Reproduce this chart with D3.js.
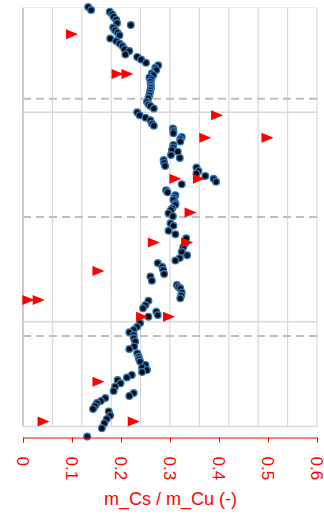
<!DOCTYPE html>
<meta charset="utf-8" />
<style>
    body { margin: 0; background: white; }
    text { font-family: "Liberation Sans", Arial, sans-serif; }
</style>
<script src="https://d3js.org/d3.v7.min.js"></script>
<div id="my_dataviz"></div>
<script>

    // measured series (ratio m_Cs / m_Cu vs relative depth 0..100, top = 0)
    const dotRatio = [0.133, 0.139, 0.177, 0.182, 0.185, 0.190, 0.192, 0.220, 0.184, 0.188,
        0.193, 0.197, 0.178, 0.190, 0.197, 0.203, 0.207, 0.217, 0.209, 0.233,
        0.241, 0.251, 0.276, 0.270, 0.272, 0.263, 0.266, 0.258, 0.262, 0.260,
        0.261, 0.261, 0.261, 0.260, 0.259, 0.258, 0.256, 0.253, 0.256, 0.260,
        0.267, 0.233, 0.238, 0.250, 0.260, 0.263, 0.267, 0.306, 0.307, 0.307,
        0.324, 0.321, 0.321, 0.307, 0.306, 0.304, 0.316, 0.302, 0.320, 0.287,
        0.288, 0.290, 0.354, 0.358, 0.354, 0.372, 0.389, 0.394, 0.324, 0.292,
        0.295, 0.311, 0.309, 0.307, 0.311, 0.311, 0.305, 0.302, 0.297, 0.306,
        0.301, 0.307, 0.297, 0.311, 0.333, 0.331, 0.327, 0.324, 0.335, 0.320,
        0.311, 0.275, 0.284, 0.286, 0.288, 0.260, 0.263, 0.314, 0.317, 0.321,
        0.324, 0.323, 0.321, 0.256, 0.250, 0.245, 0.272, 0.275, 0.256, 0.239,
        0.233, 0.226, 0.217, 0.226, 0.226, 0.229, 0.227, 0.217, 0.233, 0.236,
        0.237, 0.239, 0.250, 0.243, 0.253, 0.243, 0.222, 0.212, 0.193, 0.199,
        0.188, 0.185, 0.226, 0.217, 0.168, 0.159, 0.151, 0.147, 0.143, 0.175,
        0.178, 0.171, 0.166, 0.161, 0.131];
    const dotDepth = [-0.1, 0.6, 1.0, 1.6, 2.2, 2.9, 3.7, 4.2, 4.8, 5.4,
        6.0, 6.6, 7.4, 8.0, 8.6, 9.2, 9.9, 10.4, 11.2, 11.8,
        12.4, 13.2, 13.8, 14.4, 14.9, 15.7, 16.1, 16.7, 17.1, 17.7,
        18.3, 18.8, 19.2, 19.7, 20.3, 20.9, 21.6, 22.5, 23.1, 23.5,
        24.1, 25.0, 25.7, 26.3, 26.9, 27.7, 28.2, 28.9, 29.5, 30.0,
        30.9, 31.4, 32.0, 32.8, 33.4, 34.0, 34.4, 35.2, 35.9, 36.4,
        37.1, 37.8, 38.2, 39.0, 39.6, 40.2, 40.9, 41.6, 42.2, 43.6,
        44.1, 44.8, 45.4, 45.9, 46.7, 47.1, 47.9, 48.3, 49.1, 49.8,
        51.5, 52.1, 53.3, 54.1, 55.1, 56.3, 57.2, 58.3, 59.1, 59.8,
        60.4, 61.0, 61.9, 62.6, 63.6, 64.2, 65.2, 66.2, 66.7, 67.0,
        68.0, 68.7, 69.4, 70.0, 71.0, 71.8, 72.6, 73.4, 73.8, 75.3,
        76.2, 76.9, 77.5, 78.1, 78.9, 79.7, 80.9, 81.5, 82.5, 83.3,
        83.9, 84.5, 85.3, 85.9, 86.5, 87.0, 87.7, 88.3, 88.9, 89.7,
        90.5, 91.5, 92.0, 92.7, 93.2, 93.9, 94.4, 95.1, 95.8, 96.4,
        97.4, 98.2, 99.2, 100.4, 102.4];

    // sample ratios (red triangles)
    const triRatio = [0.100, 0.193, 0.213, 0.396, 0.372, 0.499, 0.311, 0.359, 0.342, 0.267,
        0.335, 0.154, 0.011, 0.032, 0.243, 0.298, 0.154, 0.042, 0.226];
    const triDepth = [6.4, 15.9, 15.9, 25.7, 31.1, 31.1, 40.9, 40.9, 48.9, 56.1,
        56.1, 62.9, 69.8, 69.8, 73.8, 73.8, 89.3, 98.8, 98.8];

    const ratioTicks = [0, 0.1, 0.2, 0.3, 0.4, 0.5, 0.6];
    const solidLines = [25, 75];
    const dashedLines = [21.8, 50, 78.4];

    const W = 324, H = 530;
    const margin = { top: 7.5, right: 7, bottom: 103.5, left: 23 },
        width = W - margin.left - margin.right,
        height = H - margin.top - margin.bottom;

    const svg = d3.select("#my_dataviz")
        .append("svg")
        .attr("width", W)
        .attr("height", H)
        .append("g")
        .attr("transform", `translate(${margin.left}, ${margin.top})`);

    const x = d3.scaleLinear().domain([0, 0.6]).range([0, width]);
    const y = d3.scaleLinear().domain([0, 100]).range([0, height]);

    // vertical grid (every 0.06)
    svg.append("g")
        .selectAll("line")
        .data(d3.range(11).map(i => i * 0.06))
        .join("line")
        .attr("x1", d => x(d)).attr("x2", d => x(d))
        .attr("y1", 0).attr("y2", height)
        .attr("stroke", (d, i) => i == 0 ? "#bfbfbf" : "#d9d9d9")
        .attr("stroke-width", (d, i) => i == 0 ? 1.6 : 1.2);

    // horizontal lines
    svg.append("line")
        .attr("x1", 0).attr("x2", width)
        .attr("y1", y(0)).attr("y2", y(0))
        .attr("stroke", "#fde3e3").attr("stroke-width", 1.2);
    svg.append("g")
        .selectAll("line")
        .data(solidLines.concat([100]))
        .join("line")
        .attr("x1", 0).attr("x2", width)
        .attr("y1", d => y(d)).attr("y2", d => y(d))
        .attr("stroke", "#d9d9d9")
        .attr("stroke-width", 1.4);
    svg.append("g")
        .selectAll("line")
        .data(dashedLines)
        .join("line")
        .attr("x1", 0).attr("x2", width)
        .attr("y1", d => y(d)).attr("y2", d => y(d))
        .attr("stroke", "#bfbfbf")
        .attr("stroke-width", 2)
        .attr("stroke-dasharray", "8,5");

    // dots
    const dots = dotRatio.map((r, i) => ({ r: r, d: dotDepth[i] }));
    svg.append("g")
        .selectAll("circle")
        .data(dots)
        .join("circle")
        .attr("cx", d => x(d.r))
        .attr("cy", d => y(d.d))
        .attr("r", 3.3)
        .style("fill", "#0a0a0a")
        .style("stroke", "#2f75b5")
        .style("stroke-width", 1.4);

    // triangles
    const tris = triRatio.map((r, i) => ({ r: r, d: triDepth[i] }));
    svg.append("g")
        .selectAll("path")
        .data(tris)
        .join("path")
        .attr("d", "M-6,-5L6,0L-6,5Z")
        .attr("transform", d => `translate(${x(d.r)},${y(d.d)})`)
        .style("fill", "#ff0000");

    // red axis
    const axisY = 437.5 - margin.top;
    const ax = svg.append("g")
        .attr("transform", `translate(0, ${axisY})`)
        .call(d3.axisBottom(x).tickValues(ratioTicks).tickSize(5).tickSizeOuter(5)
            .tickFormat(d => d == 0 ? "0" : d3.format(".1f")(d)));
    ax.select(".domain").attr("stroke", "#ff0000");
    ax.selectAll(".tick line").attr("stroke", "#ff0000");
    ax.selectAll(".tick text")
        .attr("transform", "rotate(90)")
        .attr("x", 19)
        .attr("y", 0)
        .attr("dy", "0.36em")
        .attr("text-anchor", "start")
        .attr("fill", "#ff0000")
        .style("font-size", "17px");

    svg.append("text")
        .attr("x", 170.5 - margin.left)
        .attr("y", 505 - margin.top)
        .attr("text-anchor", "middle")
        .attr("fill", "#ff0000")
        .style("font-size", "18px")
        .text("m_Cs / m_Cu (-)");

</script>
